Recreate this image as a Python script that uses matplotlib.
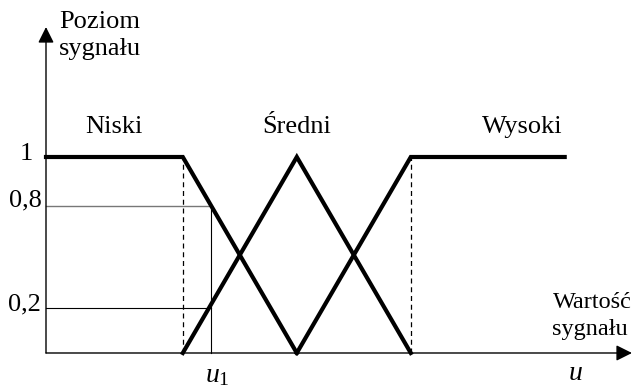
import numpy as np
import matplotlib
matplotlib.use('Agg')
import matplotlib.pyplot as plt

plt.rcParams['font.family'] = ['Liberation Serif', 'DejaVu Serif']
plt.rcParams['mathtext.fontset'] = 'custom'
plt.rcParams['mathtext.rm'] = 'Liberation Serif'
plt.rcParams['mathtext.it'] = 'Liberation Serif:italic'

# membership functions (signal value u -> level)
niski_x = [0, 1.2, 2.2]
niski_y = [1, 1, 0]
sredni_x = [1.2, 2.2, 3.2]
sredni_y = [0, 1, 0]
wysoki_x = [2.2, 3.2, 4.55]
wysoki_y = [0, 1, 1]
set_names = ['Niski', 'Średni', 'Wysoki']
set_centers = [0.6, 2.2, 4.18]

u1 = 1.45
u1_levels = [0.75, 0.23]
level_labels = ['0,8', '0,2']
dashed_x = [1.2, 3.2]

fig = plt.figure(figsize=(6.38, 3.90), dpi=100)
ax = fig.add_axes([0, 0, 1, 1])
ax.set_xlim(-0.4035, 5.193)
ax.set_ylim(-0.1888, 1.801)
ax.axis('off')

fs = 19

# axes with arrows
ax.annotate('', xy=(0, 1.663), xytext=(0, 0),
            arrowprops=dict(arrowstyle='-|>', color='k', lw=1.0,
                            mutation_scale=24, shrinkA=0, shrinkB=0))
ax.annotate('', xy=(5.14, 0), xytext=(0, 0),
            arrowprops=dict(arrowstyle='-|>', color='k', lw=1.0,
                            mutation_scale=24, shrinkA=0, shrinkB=0))

# helper lines
for x in dashed_x:
    ax.plot([x, x], [0, 1], color='k', lw=0.9, ls=(0, (4, 3)))
ax.plot([0, u1], [u1_levels[0], u1_levels[0]], color='#777777', lw=1.0)
ax.plot([0, u1], [u1_levels[1], u1_levels[1]], color='k', lw=0.8)
ax.plot([u1, u1], [0, u1_levels[0]], color='k', lw=0.8)

# membership functions
for xs, ys in [(niski_x, niski_y), (sredni_x, sredni_y), (wysoki_x, wysoki_y)]:
    ax.plot(xs, ys, color='k', lw=3.0, solid_joinstyle='miter')

for name, cx in zip(set_names, set_centers):
    ax.text(cx, 1.122, name, ha='center', va='baseline', fontsize=fs)

# y labels
ax.text(-0.228, 0.985, '1', ha='left', va='baseline', fontsize=fs)
ax.text(-0.325, u1_levels[0], level_labels[0], ha='left', va='baseline', fontsize=fs)
ax.text(-0.333, 0.219, level_labels[1], ha='left', va='baseline', fontsize=fs)

ax.text(0.114, 1.658, 'Poziom', ha='left', va='baseline', fontsize=fs)
ax.text(0.114, 1.520, 'sygnału', ha='left', va='baseline', fontsize=fs)
ax.text(4.447, 0.230, 'Wartość', ha='left', va='baseline', fontsize=17.5)
ax.text(4.44, 0.092, 'sygnału', ha='left', va='baseline', fontsize=17.5)

ax.text(4.64, -0.138, '$u$', ha='center', va='baseline', fontsize=fs + 1)
ax.text(u1 + 0.05, -0.15, r'$u_{\mathit{1}}$', ha='center', va='baseline', fontsize=fs + 1)

plt.savefig('out.png', dpi=100)
